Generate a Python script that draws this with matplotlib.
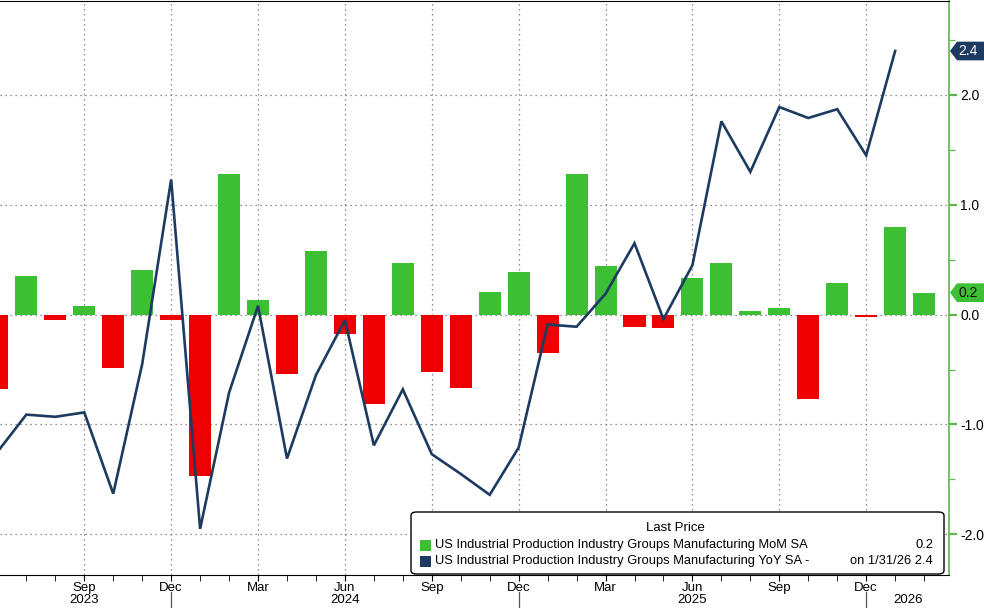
import matplotlib
matplotlib.use("Agg")
import matplotlib.pyplot as plt
from matplotlib.patches import Polygon, FancyBboxPatch, Rectangle
import numpy as np
import pandas as pd

# month-over-month bars (first bar is Jun 2023)
mom = [-0.68, 0.35, -0.05, 0.08, -0.49, 0.41, -0.05, -1.47, 1.28, 0.13,
       -0.54, 0.58, -0.18, -0.81, 0.47, -0.52, -0.67, 0.21, 0.39, -0.35,
       1.28, 0.44, -0.11, -0.12, 0.33, 0.47, 0.03, 0.06, -0.77, 0.29,
       -0.02, 0.80, 0.20]
# year-over-year line
yoy = [-1.25, -0.91, -0.93, -0.89, -1.63, -0.45, 1.23, -1.95, -0.71, 0.08,
       -1.31, -0.55, -0.05, -1.19, -0.68, -1.27, -1.45, -1.64, -1.21, -0.09,
       -0.11, 0.19, 0.65, -0.04, 0.45, 1.76, 1.30, 1.89, 1.79, 1.87,
       1.45, 2.40]
months = pd.period_range("2023-06", periods=len(mom), freq="M")

mom_label = "US Industrial Production Industry Groups Manufacturing MoM SA"
yoy_label = "US Industrial Production Industry Groups Manufacturing YoY SA -"
mom_last = "0.2"
yoy_last = "on 1/31/26 2.4"

GREEN = "#3cbf32"
RED = "#ee0000"
NAVY = "#1d3b60"
SPINE_GREEN = "#5cb84c"

plt.rcParams["font.family"] = ["Liberation Sans", "DejaVu Sans"]
plt.rcParams["axes.unicode_minus"] = False

fig = plt.figure(figsize=(9.84, 6.08), dpi=100)
ax = fig.add_axes([0, 33 / 608, 949 / 984, 574 / 608])

x = np.arange(len(mom))
colors = [GREEN if v >= 0 else RED for v in mom]
ax.bar(x, mom, width=0.76, color=colors, zorder=2)
ax.plot(np.arange(len(yoy)), yoy, color=NAVY, lw=1.9, zorder=3,
        solid_joinstyle="miter")

ax.set_xlim(0.09, 32.86)
ax.set_ylim(-2.37, 2.855)

# grid
grid_kw = dict(color="#707070", lw=0.9, ls=(0, (1, 3)), zorder=1)
for yv in [-2, -1, 0, 1, 2]:
    ax.axhline(yv, **grid_kw)
quarter = [i for i, m in enumerate(months)
           if m.month in (3, 6, 9, 12) and i > 0]
for i in quarter:
    ax.axvline(i, **grid_kw)

# spines
ax.spines["left"].set_visible(False)
ax.spines["top"].set_color("black")
ax.spines["bottom"].set_color("black")
ax.spines["right"].set_color(SPINE_GREEN)
ax.spines["right"].set_linewidth(1.2)

# x ticks
ax.set_xticks(quarter)
ax.set_xticklabels([months[i].strftime("%b") for i in quarter], fontsize=9.5)
ax.set_xticks(x[1:], minor=True)
ax.tick_params(axis="x", which="both", length=4, direction="out", pad=1,
               color="black")

# year labels and separators
xtr = ax.get_xaxis_transform()
years = sorted(set(m.year for m in months[:len(yoy)]))
year_pos = {}
for y in years:
    idx = [i for i, m in enumerate(months) if m.year == y and i < len(yoy)]
    if y == years[-1]:
        year_pos[y] = (idx[0] - 1 + ax.get_xlim()[1]) / 2
    elif y == years[0]:
        year_pos[y] = [i for i in idx if months[i].month == 9][0]
    else:
        year_pos[y] = [i for i in idx if months[i].month == 6][0]
for y, p in year_pos.items():
    ax.text(p, -0.044, str(y), transform=xtr, ha="center", va="center",
            fontsize=9.5)
for i, m in enumerate(months):
    if m.month == 12 and i < len(yoy):
        ax.plot([i, i], [-0.029, -0.06], transform=xtr, color="#555555",
                lw=0.9, clip_on=False)

# right y axis
ax.yaxis.tick_right()
ax.set_yticks([-2, -1, 0, 1, 2])
ax.set_yticklabels(["%.1f" % v for v in [-2, -1, 0, 1, 2]], fontsize=10)
ax.set_yticks(np.arange(-2, 2.6, 0.5), minor=True)
ax.tick_params(axis="y", which="major", length=6, width=1.6,
               color=SPINE_GREEN, pad=2)
ax.tick_params(axis="y", which="minor", length=4, width=0.9,
               color=SPINE_GREEN)

# last value callouts
ytr = ax.get_yaxis_transform()
aw = 1 / 949


def callout(val, text, face, tcolor):
    h = 0.085
    pts = [(1 + 1 * aw, val), (1 + 8 * aw, val + h), (1 + 40 * aw, val + h),
           (1 + 40 * aw, val - h), (1 + 8 * aw, val - h)]
    ax.add_patch(Polygon(pts, closed=True, transform=ytr, facecolor=face,
                         edgecolor="none", clip_on=False, zorder=5))
    ax.text(1 + 9 * aw, val, text, transform=ytr, ha="left", va="center",
            color=tcolor, fontsize=10, zorder=6, clip_on=False)


callout(yoy[-1], "%.1f" % yoy[-1], NAVY, "white")
callout(mom[-1], "%.1f" % mom[-1], GREEN, "#111111")

# legend box
atr = ax.transAxes
px = lambda v: v / 949
py = lambda v: (574 - v) / 574
box = FancyBboxPatch((px(411), py(573)), px(944) - px(411), py(511) - py(573),
                     boxstyle="round,pad=0,rounding_size=0.006",
                     transform=atr, facecolor="white", edgecolor="black",
                     lw=1, zorder=7)
ax.add_patch(box)
ax.text(px(675), py(527), "Last Price", transform=atr, ha="center",
        va="center", fontsize=9.5, zorder=8)
for row_y, c, lab, val in [(544, GREEN, mom_label, mom_last),
                           (560, NAVY, yoy_label, yoy_last)]:
    ax.add_patch(Rectangle((px(420), py(row_y + 5.5)), px(11), 11 / 574,
                           transform=atr, facecolor=c, edgecolor="none",
                           zorder=8))
    ax.text(px(435), py(row_y), lab, transform=atr, ha="left", va="center",
            fontsize=9.3, zorder=8)
    ax.text(px(933), py(row_y), val, transform=atr, ha="right", va="center",
            fontsize=9.3, zorder=8)

fig.savefig("out.png", dpi=100)
